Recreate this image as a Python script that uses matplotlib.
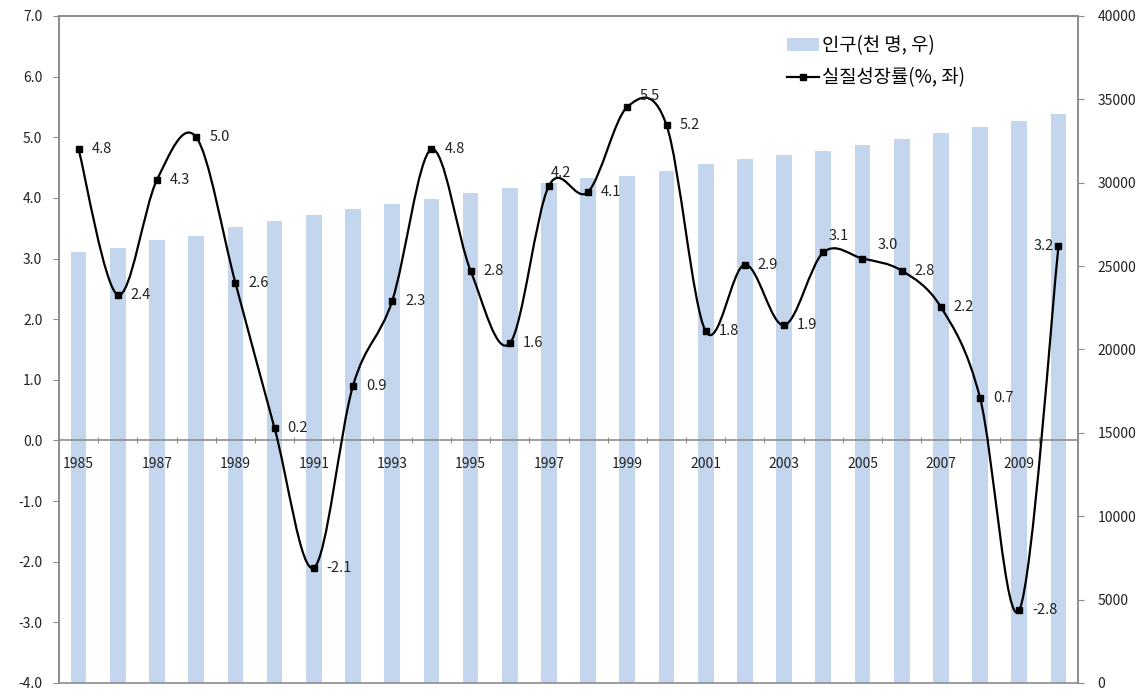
import numpy as np
import matplotlib.pyplot as plt
from matplotlib.path import Path
from matplotlib.patches import PathPatch, Patch
from matplotlib.lines import Line2D

plt.rcParams['font.family'] = ['Noto Sans CJK KR', 'DejaVu Sans']

years = list(range(1985, 2011))
growth = [4.8, 2.4, 4.3, 5.0, 2.6, 0.2, -2.1, 0.9, 2.3, 4.8, 2.8, 1.6, 4.2,
          4.1, 5.5, 5.2, 1.8, 2.9, 1.9, 3.1, 3.0, 2.8, 2.2, 0.7, -2.8, 3.2]
population = [25850, 26090, 26570, 26810, 27350, 27710, 28070, 28430, 28730,
              29030, 29390, 29690, 29990, 30290, 30410, 30710, 31120, 31420,
              31660, 31920, 32260, 32610, 32970, 33330, 33720, 34120]

bar_color = "#C3D6EE"
grey = "#8C8C8C"

# label placement tweaks (dx px, dy px, ha, va), default is right of point
label_pos = {1997: (2, 6, "left", "bottom"), 1999: (12, 4, "left", "bottom"),
             2004: (5, 9, "left", "bottom"), 2005: (15, 7, "left", "bottom"),
             2010: (-5, 0, "right", "center")}

x = np.arange(len(years))

fig = plt.figure(figsize=(11.46, 6.94), dpi=100)
ax = fig.add_axes([0.0515, 0.0159, 0.8892, 0.9611])
axr = ax.twinx()

axr.bar(x, population, width=0.4, color=bar_color, zorder=1)
axr.set_ylim(0, 40000)
axr.set_yticks(range(0, 40001, 5000))
axr.tick_params(axis="y", labelsize=10, colors=grey, labelcolor="#222222",
                length=4, pad=10)

ax.set_zorder(axr.get_zorder() + 1)
ax.patch.set_visible(False)

# smoothed line like excel (bezier through the points)
pts = np.column_stack([x, growth]).astype(float)
n = len(pts)
verts = [pts[0]]
codes = [Path.MOVETO]
for i in range(n - 1):
    p_prev = pts[max(i - 1, 0)]
    p_next2 = pts[min(i + 2, n - 1)]
    c1 = pts[i] + (pts[i + 1] - p_prev) / 6
    c2 = pts[i + 1] - (p_next2 - pts[i]) / 6
    verts += [c1, c2, pts[i + 1]]
    codes += [Path.CURVE4] * 3
ax.add_patch(PathPatch(Path(verts, codes), facecolor="none", edgecolor="black",
                       lw=1.6, zorder=3))
ax.plot(x, growth, "s", color="black", markersize=3.8, zorder=4)

for xi, yr, v in zip(x, years, growth):
    dx, dy, ha, va = label_pos.get(yr, (13, 0, "left", "center"))
    ax.annotate(f"{v:.1f}", (xi, v), xytext=(dx, dy), textcoords="offset pixels",
                ha=ha, va=va, fontsize=10.5, color="#222222", zorder=5)

ax.set_xlim(-0.5, len(years) - 0.5)
ax.set_ylim(-4, 7)
ax.set_yticks(np.arange(-4, 7.01, 1.0))
ax.set_yticklabels([f"{t:.1f}" for t in np.arange(-4, 7.01, 1.0)])
ax.tick_params(axis="y", labelsize=10, colors=grey, labelcolor="#222222",
               length=4, pad=8)

ax.set_xticks(np.arange(-0.5, len(years), 1.0))
ax.set_xticklabels([])
ax.set_xticks(x[::2], [str(y) for y in years[::2]], minor=True)
ax.tick_params(axis="x", which="major", length=4, colors=grey, direction="inout")
ax.tick_params(axis="x", which="minor", length=0, labelsize=10,
               labelcolor="#222222", pad=12)
ax.spines["bottom"].set_position(("data", 0))

for sp in list(ax.spines.values()) + list(axr.spines.values()):
    sp.set_color(grey)
    sp.set_linewidth(1.2)

handles = [Patch(facecolor=bar_color, edgecolor="none"),
           Line2D([], [], color="black", marker="s", markersize=3.8, lw=1.6)]
ax.legend(handles, ["인구(천 명, 우)", "실질성장률(%, 좌)"], loc="upper left",
          bbox_to_anchor=(0.68, 0.96), bbox_transform=fig.transFigure,
          frameon=False, fontsize=13.5, handlelength=1.7, handletextpad=0.2,
          labelspacing=0.6, borderaxespad=0)

fig.savefig("out.png", dpi=100)
